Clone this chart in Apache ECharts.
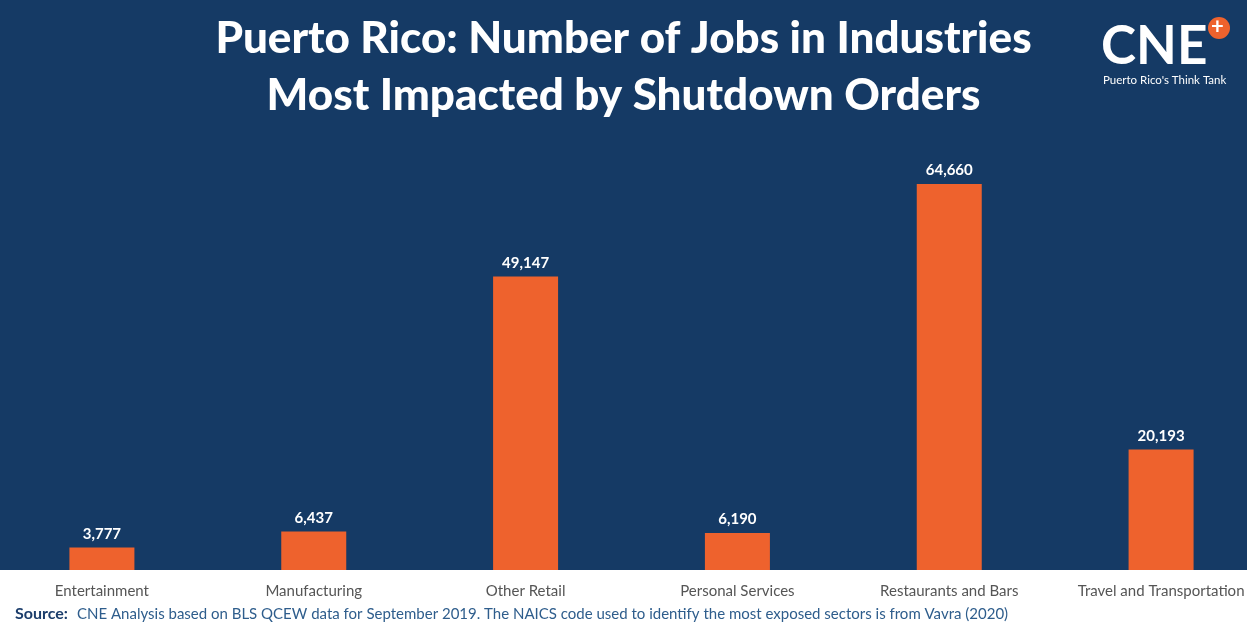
<!DOCTYPE html>
<html>
<head>
<meta charset="utf-8">
<script src="https://cdn.jsdelivr.net/npm/echarts@6/dist/echarts.min.js"></script>
<style>html,body{margin:0;padding:0;background:#fff}#c{width:1247px;height:627px}</style>
</head>
<body>
<div id="c"></div>
<script>
const categories = ['Entertainment', 'Manufacturing', 'Other Retail', 'Personal Services', 'Restaurants and Bars', 'Travel and Transportation'];
const jobs = [3777, 6437, 49147, 6190, 64660, 20193];
const titleText = 'Puerto Rico: Number of Jobs in Industries\nMost Impacted by Shutdown Orders';
const sourceLabel = 'Source:';
const sourceText = 'CNE Analysis based on BLS QCEW data for September 2019. The NAICS code used to identify the most exposed sectors is from Vavra (2020)';

const NAVY = '#153a65';
const ORANGE = '#ee622d';
const chart = echarts.init(document.getElementById('c'), null, {renderer: 'canvas'});
chart.setOption({
  backgroundColor: '#ffffff',
  animation: false,
  title: {
    text: titleText,
    left: 'center',
    top: 5,
    textStyle: {color: '#ffffff', fontFamily: 'Lato', fontWeight: 900, fontSize: 44, lineHeight: 57}
  },
  graphic: [
    {type: 'rect', z: -100, silent: true, shape: {x: 0, y: 0, width: 1247, height: 570}, style: {fill: NAVY}},
    {type: 'text', z: 10, left: 1101, top: 20, style: {text: 'CNE', fill: '#fff', font: 'bold 53px Lato'}},
    {type: 'circle', z: 10, shape: {cx: 1219, cy: 28, r: 11}, style: {fill: ORANGE}},
    {type: 'text', z: 11, left: 1211, top: 16, style: {text: '+', fill: '#fff', font: 'bold 22px Lato'}},
    {type: 'text', z: 10, left: 1103, top: 74, style: {text: "Puerto Rico's Think Tank", fill: '#fff', font: '11.5px Lato'}},
    {type: 'text', z: 10, left: 15, top: 606, style: {text: sourceLabel, fill: '#1b3d6b', font: 'bold 16px Lato'}},
    {type: 'text', z: 10, left: 77, top: 607, style: {text: sourceText, fill: '#2e5d8c', font: '15px Lato'}}
  ],
  grid: {left: -4, width: 1271, top: 152, bottom: 57, containLabel: false, outerBoundsMode: 'none'},
  xAxis: {
    type: 'category',
    data: categories,
    axisLine: {show: false},
    axisTick: {show: false},
    axisLabel: {color: '#555555', fontFamily: 'Lato', fontSize: 15, margin: 14, interval: 0}
  },
  yAxis: {
    type: 'value',
    min: 0,
    max: 70000,
    show: false,
    splitLine: {show: false}
  },
  series: [{
    type: 'bar',
    data: jobs,
    barWidth: 65,
    itemStyle: {color: ORANGE},
    label: {
      show: true,
      position: 'top',
      distance: 6,
      color: '#ffffff',
      fontFamily: 'Lato',
      fontWeight: 'bold',
      fontSize: 15,
      formatter: p => p.value.toLocaleString('en-US')
    }
  }]
});
</script>
</body>
</html>
